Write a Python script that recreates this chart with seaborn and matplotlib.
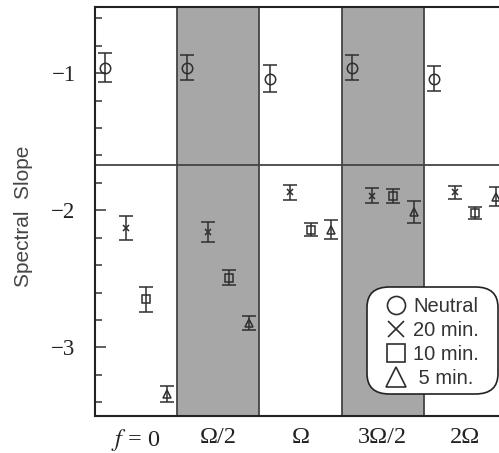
import numpy as np
import pandas as pd
import matplotlib
matplotlib.use("Agg")
import matplotlib.pyplot as plt
from matplotlib.lines import Line2D
from matplotlib.patches import FancyBboxPatch
import seaborn as sns

# ---- data ----
categories = ["$f$ = 0", "Ω/2", "Ω", "3Ω/2", "2Ω"]
series_names = ["Neutral", "20 min.", "10 min.", " 5 min."]
neutral = [-0.96, -0.96, -1.04, -0.96, -1.04]
neutral_err = [0.105, 0.09, 0.10, 0.09, 0.09]
min20 = [-2.13, -2.155, -1.87, -1.895, -1.87]
min20_err = [0.088, 0.073, 0.057, 0.055, 0.046]
min10 = [-2.65, -2.49, -2.14, -1.895, -2.02]
min10_err = [0.09, 0.055, 0.05, 0.05, 0.042]
min5 = [-3.34, -2.82, -2.14, -2.01, -1.90]
min5_err = [0.06, 0.05, 0.067, 0.08, 0.07]
yticks = [-1, -2, -3]
ytick_labels = ["−1", "−2", "−3"]
divider_value = -1.67

sns.set_theme(style="white")
plt.rcParams["font.family"] = ["Liberation Sans", "DejaVu Sans"]
plt.rcParams["mathtext.fontset"] = "stix"

values = [neutral, min20, min10, min5]
errors = [neutral_err, min20_err, min10_err, min5_err]
markers = ["o", "x", "s", "^"]
msizes = [7.5, 4.5, 5.5, 6]
offsets = [-0.375, -0.125, 0.125, 0.375]
ink = "#2e2e2e"

W, H = 499, 453
fig = plt.figure(figsize=(W / 100, H / 100), dpi=100)
ax = fig.add_axes([95 / W, 37 / H, (506 - 95) / W, (416 - 6.7) / H])

x = np.arange(len(categories))
# shaded columns
for i in range(len(categories)):
    if i % 2 == 1:
        ax.axvspan(i - 0.5, i + 0.5, color="#a7a7a7", zorder=0, lw=0)
    if i > 0:
        ax.axvline(i - 0.5, color="#444444", lw=1.3, zorder=1)
ax.axhline(divider_value, color="#444444", lw=1.3, zorder=1)

for vals, errs, mk, ms, off in zip(values, errors, markers, msizes, offsets):
    ax.errorbar(x + off, vals, yerr=errs, fmt=mk, ms=ms, mfc="none", mec=ink,
                mew=1.1, ecolor=ink, elinewidth=1.1, capsize=5, capthick=1.1,
                zorder=3)

ax.set_xlim(-0.5, len(categories) - 0.5)
ax.set_ylim(-3.5, -0.515)
ax.set_xticks(x)
ax.set_xticklabels(categories, fontfamily="Liberation Serif", fontsize=17.5, color="#222222")
ax.set_yticks(yticks)
ax.set_yticklabels(ytick_labels, fontfamily="Liberation Serif", fontsize=16.5, color="#222222")
ax.set_yticks(np.arange(-3.4, -0.5, 0.2), minor=True)
ax.tick_params(axis="y", which="major", direction="in", length=8, width=1.1,
               color="#333333", left=True, pad=14)
ax.tick_params(axis="y", which="minor", direction="in", length=5, width=1.1,
               color="#333333", left=True)
ax.tick_params(axis="x", which="both", length=0, pad=8)
for s in ax.spines.values():
    s.set_color("#222222")
    s.set_linewidth(1.5)

ax.set_ylabel("Spectral  Slope", fontsize=15, color="#444444")
ax.yaxis.set_label_coords(-0.151, 0.487)

# legend frame (rounded box)
box = FancyBboxPatch((367 / W, 1 - 394 / H), (498 - 367) / W, (394 - 287) / H,
                     boxstyle="round,pad=0,rounding_size=0.045",
                     transform=fig.transFigure, facecolor="white",
                     edgecolor="#222222", linewidth=1.2, zorder=4)
fig.patches.append(box)

handles = [Line2D([], [], ls="none", marker=mk, ms=s, mfc="none", mec=ink, mew=1.2)
           for mk, s in zip(markers, [13, 12, 13, 14])]
leg = fig.legend(handles, series_names, loc="upper left",
                 bbox_to_anchor=(386 / W, 1 - 297 / H), frameon=False,
                 fontsize=14.5, handlelength=1.0, handletextpad=0.35,
                 labelspacing=0.245, borderpad=0, borderaxespad=0)
leg.set_zorder(5)
for t in leg.get_texts():
    t.set_color("#333333")

fig.savefig("out.png", dpi=100)
